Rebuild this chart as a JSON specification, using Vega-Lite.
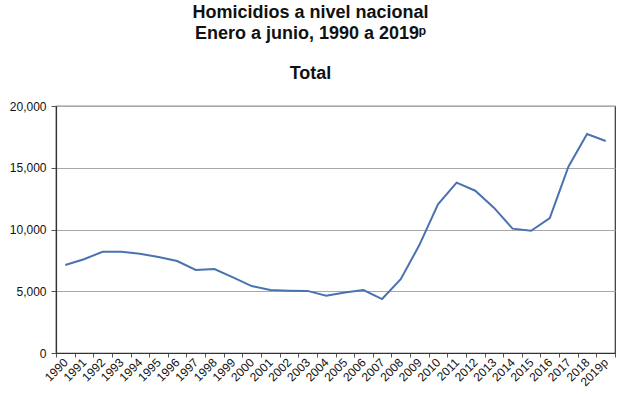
{
  "$schema": "https://vega.github.io/schema/vega-lite/v6.json",
  "width": 559,
  "height": 247,
  "autosize": "none",
  "padding": {"left": 56, "top": 106, "right": 13, "bottom": 41},
  "background": "white",
  "title": {
    "text": ["Homicidios a nivel nacional", "Enero a junio, 1990 a 2019ᵖ"],
    "subtitle": "Total",
    "font": "Liberation Sans",
    "fontSize": 18,
    "fontWeight": "bold",
    "lineHeight": 21,
    "color": "#111111",
    "subtitleFont": "Liberation Sans",
    "subtitleFontSize": 18,
    "subtitleFontWeight": "bold",
    "subtitleColor": "#111111",
    "subtitlePadding": 22,
    "anchor": "middle",
    "dx": -25,
    "offset": 17
  },
  "config": {
    "view": {"stroke": "#333333", "strokeWidth": 1.2},
    "font": "Liberation Sans"
  },
  "data": {
    "values": [
      {"year": "1990", "total": 7130},
      {"year": "1991", "total": 7590},
      {"year": "1992", "total": 8200},
      {"year": "1993", "total": 8200},
      {"year": "1994", "total": 8040},
      {"year": "1995", "total": 7770},
      {"year": "1996", "total": 7450},
      {"year": "1997", "total": 6720},
      {"year": "1998", "total": 6800},
      {"year": "1999", "total": 6130},
      {"year": "2000", "total": 5420},
      {"year": "2001", "total": 5100},
      {"year": "2002", "total": 5050},
      {"year": "2003", "total": 5030},
      {"year": "2004", "total": 4640},
      {"year": "2005", "total": 4900},
      {"year": "2006", "total": 5100},
      {"year": "2007", "total": 4370},
      {"year": "2008", "total": 5970},
      {"year": "2009", "total": 8740},
      {"year": "2010", "total": 12040},
      {"year": "2011", "total": 13790},
      {"year": "2012", "total": 13140},
      {"year": "2013", "total": 11770},
      {"year": "2014", "total": 10070},
      {"year": "2015", "total": 9900},
      {"year": "2016", "total": 10930},
      {"year": "2017", "total": 15090},
      {"year": "2018", "total": 17730},
      {"year": "2019p", "total": 17170}
    ]
  },
  "mark": {"type": "line", "color": "#4a72b0", "strokeWidth": 2},
  "encoding": {
    "x": {
      "field": "year",
      "type": "ordinal",
      "bandPosition": 0.5,
      "scale": {"type": "band", "paddingInner": 0, "paddingOuter": 0},
      "axis": {
        "title": null,
        "labelAngle": -45,
        "labelAlign": "right",
        "labelBaseline": "middle",
        "labelFontSize": 12,
        "labelColor": "#111111",
        "labelPadding": 3,
        "labelOverlap": false,
        "tickBand": "extent",
        "tickSize": 4,
        "tickColor": "#555555",
        "domainColor": "#333333",
        "domainWidth": 1.2,
        "grid": false
      }
    },
    "y": {
      "field": "total",
      "type": "quantitative",
      "scale": {"domain": [0, 20000], "nice": false},
      "axis": {
        "title": null,
        "values": [0, 5000, 10000, 15000, 20000],
        "format": ",.0f",
        "labelFontSize": 12,
        "labelColor": "#111111",
        "labelPadding": 5,
        "tickSize": 5,
        "tickColor": "#555555",
        "domainColor": "#333333",
        "domainWidth": 1.2,
        "gridColor": "#a8a8a8",
        "gridWidth": 1
      }
    }
  }
}
